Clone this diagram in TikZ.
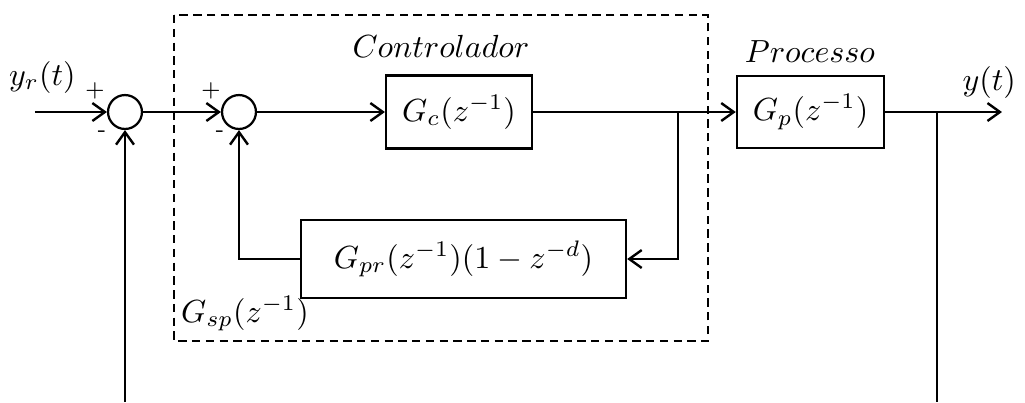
\documentclass[tikz,border=0pt]{standalone}
\usetikzlibrary{arrows.meta}
\begin{document}
\begin{tikzpicture}[x=0.3125pt,y=-0.3125pt,
  line width=0.75pt,
  sig/.style={-{Straight Barb[length=3.9pt,width=5.6pt,line width=0.75pt]}},
  blk/.style={draw,line width=0.7pt,rectangle,inner sep=0pt},
  sumc/.style={draw,circle,line width=0.7pt,minimum size=10.6pt,inner sep=0pt},
  lbl/.style={inner sep=0pt},
  sgn/.style={inner sep=0pt,font=\scriptsize},
  grp/.style={draw,dash pattern=on 2.6pt off 1.7pt,line width=0.75pt}]
\useasboundingbox (0,0) rectangle (1025,402);
% dashed group
\draw[grp] (174,15) rectangle (708,341);
% blocks
\node[sumc] (c1) at (125,112) {};
\node[sumc] (c2) at (239,112) {};
\node[blk,minimum width=45.6pt,minimum height=22.8pt] (gc) at (459,112) {$G_c(z^{-1})$};
\node[blk,minimum width=46pt,minimum height=22.6pt] (gp) at (810.5,112) {$G_p(z^{-1})$};
\node[blk,minimum width=101.6pt,minimum height=24.4pt] (gpr) at (463.5,259) {$G_{pr}(z^{-1})(1-z^{-d})$};
% coordinates
\coordinate (in) at (35,112);
\coordinate (b1) at (678,112);
\coordinate (b1d) at (678,259);
\coordinate (fl) at (239,259);
\coordinate (out) at (1002,112);
\coordinate (b2) at (937,112);
\coordinate (b2d) at (937,402);
\coordinate (fb) at (125,402);
% labels
\node[lbl,anchor=base west] (yr) at (8,85) {$y_r(t)$};
\node[sgn] (p1) at (95,91) {+};
\node[sgn] (m1) at (102,134) {-};
\node[sgn] (p2) at (211,91) {+};
\node[sgn] (m2) at (220,134) {-};
\node[lbl,anchor=base] (ctl) at (441,57) {$Controlador$};
\node[lbl,anchor=base] (prc) at (810,62) {$Processo$};
\node[lbl,anchor=base east] (yt) at (1017,90) {$y(t)$};
\node[lbl,anchor=base west] (gsp) at (180,322) {$G_{sp}(z^{-1})$};
% connectors
\draw[sig] (in) -- (c1.west);
\draw[sig] (c1.east) -- (c2.west);
\draw[sig] (c2.east) -- (gc.west);
\draw[sig] (gc.east) -- (gp.west);
\draw[sig] (b1) -- (b1d) -- (gpr.east);
\draw[sig] (gpr.west) -- (fl) -- (c2.south);
\draw[sig] (gp.east) -- (out);
\draw (b2) -- (b2d);
\draw[sig] (fb) -- (c1.south);
\end{tikzpicture}
\end{document}
